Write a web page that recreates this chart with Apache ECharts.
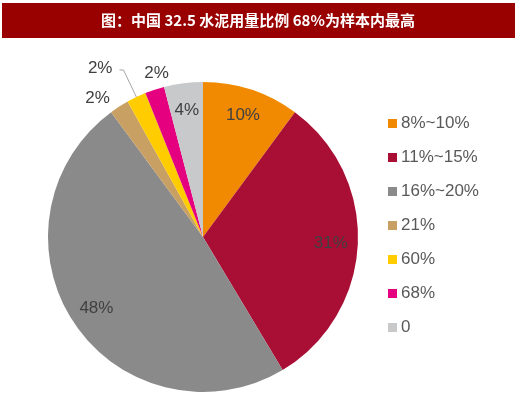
<!DOCTYPE html>
<html><head><meta charset="utf-8">
<script src="https://cdn.jsdelivr.net/npm/echarts@6/dist/echarts.min.js"></script>
<style>html,body{margin:0;padding:0;background:#fff;}#c{width:520px;height:399px;}</style>
</head><body><div id="c"></div>
<script>
const titleText = '图：中国 32.5 水泥用量比例 68%为样本内最高';
const categories = ['8%~10%', '11%~15%', '16%~20%', '21%', '60%', '68%', '0'];
const values = [10, 31, 48, 2, 2, 2, 4];
const colors = ['#F18A00', '#A90E35', '#8A8A8A', '#C9A063', '#FFCC00', '#E4007F', '#C8C9CA'];
const insideLabel = [true, true, true, false, false, false, true];

const chart = echarts.init(document.getElementById('c'), null, {renderer: 'canvas'});
const fontFam = '"Liberation Sans", Arial, sans-serif';

const outsideLayout = {
  3: {length: 8, length2: 2},
  4: {length: 30, length2: 4},
  5: {length: 12, length2: 0}
};
const mainData = categories.map((n, i) => {
  const d = {name: n, value: values[i], itemStyle: {color: colors[i]}};
  if (insideLabel[i]) {
    d.label = {show: false};
    d.labelLine = {show: false};
  } else {
    d.label = {show: true};
    d.labelLine = {show: i === 4, length: outsideLayout[i].length, length2: outsideLayout[i].length2};
  }
  return d;
});
const labelData = categories.map((n, i) => ({
  name: n, value: values[i],
  label: {show: insideLabel[i]}
}));

chart.setOption({
  animation: false,
  backgroundColor: '#fff',
  graphic: [
    {type: 'rect', shape: {x: 2, y: 3, width: 513, height: 35}, style: {fill: '#990000'}},
    {type: 'text', x: 258, y: 20, style: {text: titleText, fill: '#fff', font: 'bold 15px "Noto Sans CJK SC", sans-serif', textAlign: 'center', textVerticalAlign: 'middle'}}
  ],
  legend: {
    orient: 'vertical', left: 383, top: 110,
    itemWidth: 9, itemHeight: 9, itemGap: 17,
    icon: 'rect',
    data: categories,
    textStyle: {color: '#595959', fontSize: 17, fontFamily: fontFam, padding: [0, 0, 0, -1]}
  },
  series: [
    {
      type: 'pie', center: [203, 237], radius: [0, 155],
      startAngle: 90, clockwise: true,
      avoidLabelOverlap: false,
      label: {position: 'outside', alignTo: 'none', formatter: '{c}%', color: '#404040', fontSize: 17, fontFamily: fontFam},
      labelLine: {lineStyle: {color: '#A6A6A6', width: 1}, smooth: false},
      labelLayout: function (p) {
        if (p.dataIndex === 5) return {dx: 23, dy: -5};
        if (p.dataIndex === 4) return {dx: -2, dy: -2};
        if (p.dataIndex === 3) return {dx: 2, dy: -2};
        return {};
      },
      itemStyle: {borderWidth: 0},
      emphasis: {disabled: true},
      data: mainData
    },
    {
      type: 'pie', center: [203, 237], radius: [95, 155],
      startAngle: 90, clockwise: true, silent: true,
      legendHoverLink: false,
      itemStyle: {color: 'rgba(0,0,0,0)'},
      label: {position: 'inside', formatter: '{c}%', color: '#404040', fontSize: 17, fontFamily: fontFam},
      labelLine: {show: false},
      emphasis: {disabled: true},
      data: labelData
    }
  ]
});
</script></body></html>
